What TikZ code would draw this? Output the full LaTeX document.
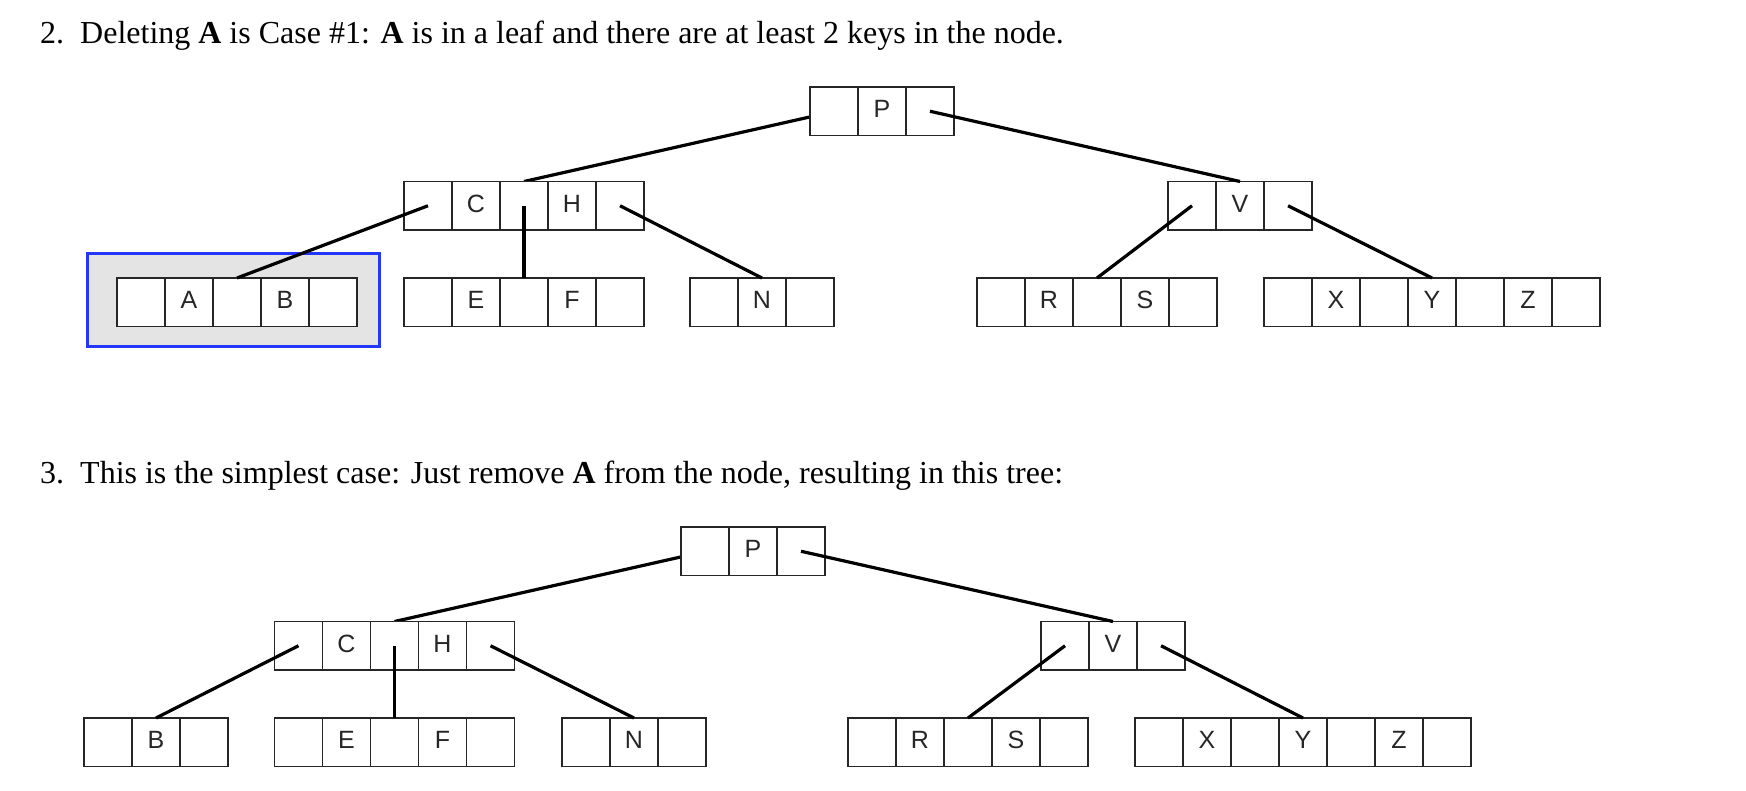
\documentclass[tikz,border=0pt]{standalone}
\usepackage{fontspec}
\setmainfont{Liberation Serif}
\newfontfamily\keyfont{Liberation Sans}
\usetikzlibrary{calc}
\definecolor{hlblue}{RGB}{35,55,250}
\definecolor{hlgray}{RGB}{228,228,228}
\tikzset{
  bbox/.style={draw=black!85, line width=1.8pt, fill=white, minimum height=48.5pt, inner sep=0pt, outer sep=0pt},
  cellline/.style={draw=black!85, line width=1.8pt},
  keytext/.style={font=\keyfont\fontsize{25}{30}\selectfont, text=black!85, inner sep=0pt},
  ptr/.style={draw=black, line width=3.2pt},
  heading/.style={font=\fontsize{32}{38}\selectfont, anchor=base west, inner sep=0pt},
  leafbox/.style={draw=hlblue, line width=3pt, fill=hlgray, inner sep=0pt, outer sep=0pt},
}
\newcommand{\btnode}[5]{%
  \node[bbox, minimum width={#4*48pt}, anchor=north west] (#1) at (#2,#3) {};
  \pgfmathtruncatemacro{\ndiv}{#4-1}%
  \foreach \i in {1,...,\ndiv}{\draw[cellline] ($(#1.north west)+(\i*48,0)$) -- ++(0,48.5);}
  \pgfmathtruncatemacro{\nptr}{(#4-1)/2}%
  \foreach \i in {0,...,\nptr}{\coordinate (#1-p\i) at ($(#1.west)+({(2*\i+0.5)*48},0)$);}
  \foreach \k [count=\j] in {#5}{\node[keytext] (#1-k\j) at ($(#1.west)+({(2*\j-0.5)*48},-2)$) {\k};}
}
\begin{document}
\begin{tikzpicture}[x=1pt,y=-1pt]
\useasboundingbox (0,0) rectangle (1746,790);
\fill[white] (0,0) rectangle (1746,790);

% headings
\node[heading] (h2n) at (40,43) {2.};
\node[heading] (h2t) at (80,43) {Deleting \textbf{A} is Case \#1: \textbf{A} is in a leaf and there are at least 2 keys in the node.};
\node[heading] (h3n) at (40,483) {3.};
\node[heading] (h3t) at (80,483) {This is the simplest case: Just remove \textbf{A} from the node, resulting in this tree:};

% highlight of the leaf holding A
\node[leafbox, minimum width=292.5pt, minimum height=93pt, anchor=north west] (hl) at (87,253.5) {};

% ---------- top tree ----------
\coordinate (tPl) at (834,111.5);
\coordinate (tCHtop) at (524,181.5);
\draw[ptr] (tPl) -- (tCHtop);
\btnode{tP}{810}{87}{3}{P}
\btnode{tCH}{404}{181.5}{5}{C,H}
\btnode{tV}{1168}{181.5}{3}{V}
\btnode{tAB}{117}{278}{5}{A,B}
\btnode{tEF}{404}{278}{5}{E,F}
\btnode{tN}{690}{278}{3}{N}
\btnode{tRS}{977}{278}{5}{R,S}
\btnode{tXYZ}{1264}{278}{7}{X,Y,Z}
\draw[ptr] (tP-p1) -- (tV.north);
\draw[ptr] (tCH-p0) -- (tAB.north);
\draw[ptr] (tCH-p1) -- (tEF.north);
\draw[ptr] (tCH-p2) -- (tN.north);
\draw[ptr] (tV-p0) -- (tRS.north);
\draw[ptr] (tV-p1) -- (tXYZ.north);

% ---------- bottom tree ----------
\coordinate (bPl) at (705,551.5);
\coordinate (bCHtop) at (394.5,621.5);
\draw[ptr] (bPl) -- (bCHtop);
\btnode{bP}{681}{527}{3}{P}
\btnode{bCH}{274.5}{621.5}{5}{C,H}
\btnode{bV}{1041}{621.5}{3}{V}
\btnode{bB}{84}{718}{3}{B}
\btnode{bEF}{274.5}{718}{5}{E,F}
\btnode{bN}{562}{718}{3}{N}
\btnode{bRS}{848}{718}{5}{R,S}
\btnode{bXYZ}{1135}{718}{7}{X,Y,Z}
\draw[ptr] (bP-p1) -- (bV.north);
\draw[ptr] (bCH-p0) -- (bB.north);
\draw[ptr] (bCH-p1) -- (bEF.north);
\draw[ptr] (bCH-p2) -- (bN.north);
\draw[ptr] (bV-p0) -- (bRS.north);
\draw[ptr] (bV-p1) -- (bXYZ.north);
\end{tikzpicture}
\end{document}
